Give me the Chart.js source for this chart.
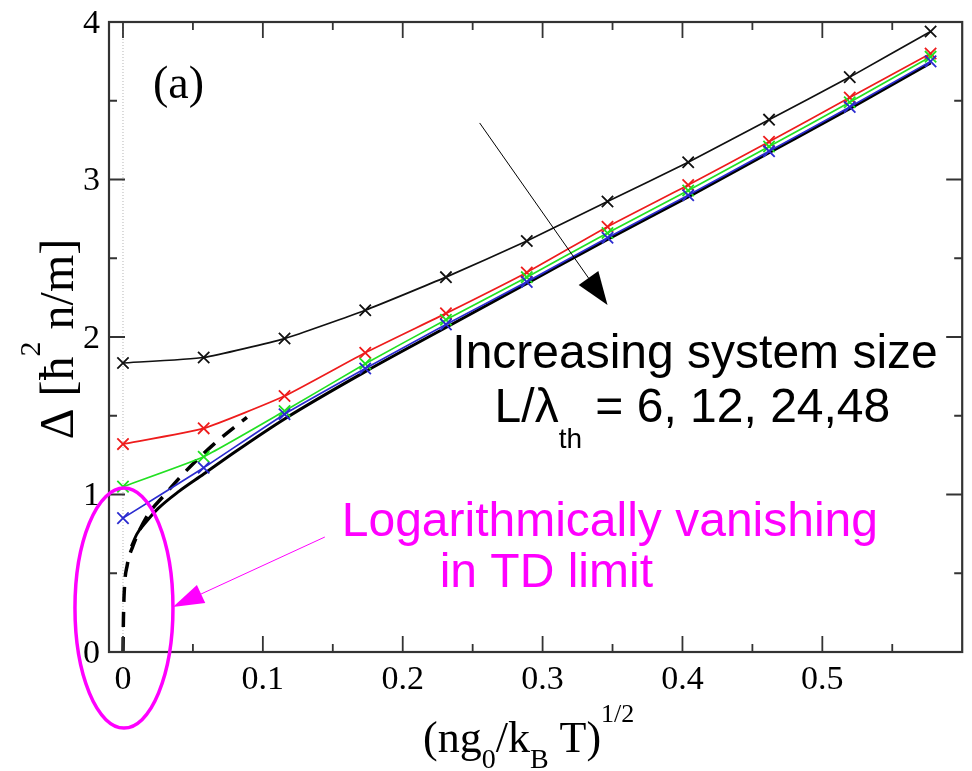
<!DOCTYPE html>
<html>
<head>
<meta charset="utf-8">
<script src="https://cdn.jsdelivr.net/npm/chart.js@4.4.0/dist/chart.umd.min.js"></script>
<style>
  html, body { margin: 0; padding: 0; background: #fff; }
  #wrap { width: 972px; height: 771px; }
</style>
</head>
<body>
<div id="wrap"><canvas id="gapChart" width="972" height="771"></canvas></div>
<script>
// x axis: (n g0 / kB T)^(1/2)
const xVals = [0, 0.0577, 0.1155, 0.1732, 0.2309, 0.2887, 0.3464, 0.4041, 0.4619, 0.5196, 0.5774];

// Delta for L/lambda_th = 6, 12, 24, 48
const deltaL6  = [1.835, 1.87, 1.99, 2.17, 2.38, 2.61, 2.86, 3.11, 3.38, 3.65, 3.94];
const deltaL12 = [1.32, 1.42, 1.625, 1.90, 2.15, 2.41, 2.70, 2.965, 3.24, 3.52, 3.80];
const deltaL24 = [1.05, 1.24, 1.53, 1.83, 2.11, 2.38, 2.66, 2.93, 3.21, 3.49, 3.78];
const deltaL48 = [0.85, 1.17, 1.51, 1.80, 2.08, 2.35, 2.63, 2.90, 3.18, 3.46, 3.75];

// thermodynamic-limit curve (solid black)
const tdX = [0.006, 0.010, 0.016, 0.025, 0.04, 0.0577, 0.08, 0.1155, 0.1732, 0.2309, 0.2887, 0.3464, 0.4041, 0.4619, 0.5196, 0.5774];
const tdY = [0.67, 0.75, 0.82, 0.91, 1.02, 1.13, 1.27, 1.48, 1.78, 2.06, 2.34, 2.62, 2.89, 3.17, 3.45, 3.74];

// logarithmic fit (dashed black)
const logX = [0, 0.0003, 0.001, 0.003, 0.007, 0.017, 0.03, 0.044, 0.065, 0.0886];
const logY = [0, 0.2, 0.4, 0.55, 0.67, 0.86, 1.0, 1.14, 1.32, 1.49];

// ticks
const xMajor = [0, 0.1, 0.2, 0.3, 0.4, 0.5];
const xMinor = [0.05, 0.15, 0.25, 0.35, 0.45, 0.55];
const yMajor = [0, 1, 2, 3, 4];
const yMinor = [0.5, 1.5, 2.5, 3.5];

const SERIF = '"Liberation Serif", "Times New Roman", serif';
const SANS = '"Liberation Sans", Arial, sans-serif';
const MAGENTA = '#ff00ff';

function pts(xs, ys) {
    return xs.map(function(x, i) { return { x: x, y: ys[i] }; });
}

function series(label, ys, color) {
    return {
        label: label,
        data: pts(xVals, ys),
        borderColor: color,
        backgroundColor: color,
        borderWidth: 1.7,
        pointStyle: 'crossRot',
        pointRadius: 8,
        pointBorderWidth: 1.8,
        pointBorderColor: color,
        tension: 0.15
    };
}

// draw a run of text pieces (normal / sub / super) from x along baseline y
function drawRuns(ctx, runs, x, y) {
    ctx.textAlign = 'left';
    ctx.textBaseline = 'alphabetic';
    runs.forEach(function(r) {
        ctx.font = r.font;
        ctx.fillText(r.t, x, y + (r.dy || 0));
        x += ctx.measureText(r.t).width;
    });
}

function runsWidth(ctx, runs) {
    let w = 0;
    runs.forEach(function(r) { ctx.font = r.font; w += ctx.measureText(r.t).width; });
    return w;
}

function drawArrow(ctx, x1, y1, x2, y2, color, lw, headLen, headHalf) {
    const dx = x2 - x1, dy = y2 - y1;
    const len = Math.hypot(dx, dy);
    const ux = dx / len, uy = dy / len;
    const bx = x2 - ux * headLen, by = y2 - uy * headLen;
    ctx.strokeStyle = color;
    ctx.lineWidth = lw;
    ctx.beginPath();
    ctx.moveTo(x1, y1);
    ctx.lineTo(bx, by);
    ctx.stroke();
    ctx.fillStyle = color;
    ctx.beginPath();
    ctx.moveTo(x2, y2);
    ctx.lineTo(bx - uy * headHalf, by + ux * headHalf);
    ctx.lineTo(bx + uy * headHalf, by - ux * headHalf);
    ctx.closePath();
    ctx.fill();
}

const framePlugin = {
    id: 'frame',
    afterDraw: function(chart) {
        const ctx = chart.ctx;
        const a = chart.chartArea;
        const xs = chart.scales.x, ys = chart.scales.y;
        const px = function(v) { return xs.getPixelForValue(v); };
        const py = function(v) { return ys.getPixelForValue(v); };

        ctx.save();
        // frame
        ctx.strokeStyle = '#333';
        ctx.lineWidth = 2.2;
        ctx.strokeRect(a.left, a.top, a.right - a.left, a.bottom - a.top);

        // inward ticks on all four sides
        ctx.lineWidth = 1.8;
        ctx.beginPath();
        xMajor.concat(xMinor).forEach(function(v) {
            const len = xMajor.indexOf(v) >= 0 ? 16 : 8;
            const x = px(v);
            ctx.moveTo(x, a.bottom); ctx.lineTo(x, a.bottom - len);
            ctx.moveTo(x, a.top); ctx.lineTo(x, a.top + len);
        });
        yMajor.concat(yMinor).forEach(function(v) {
            const len = yMajor.indexOf(v) >= 0 ? 16 : 8;
            const y = py(v);
            ctx.moveTo(a.left, y); ctx.lineTo(a.left + len, y);
            ctx.moveTo(a.right, y); ctx.lineTo(a.right - len, y);
        });
        ctx.stroke();

        // tick labels
        ctx.fillStyle = '#000';
        ctx.font = '34px ' + SERIF;
        ctx.textBaseline = 'alphabetic';
        ctx.textAlign = 'center';
        xMajor.forEach(function(v) {
            ctx.fillText(String(v), px(v), a.bottom + 37);
        });
        ctx.textAlign = 'right';
        ctx.textBaseline = 'middle';
        yMajor.forEach(function(v) {
            ctx.fillText(String(v), a.left - 9, py(v) + 2);
        });

        // x axis title
        const big = '44px ' + SERIF, small = '28px ' + SERIF;
        const xTitle = [
            { t: '(ng', font: big },
            { t: '0', font: small, dy: 16 },
            { t: '/k', font: big },
            { t: 'B', font: small, dy: 16 },
            { t: ' T)', font: big },
            { t: '1/2', font: '26px ' + SERIF, dy: -30 }
        ];
        drawRuns(ctx, xTitle, 423, 752);

        // y axis title (rotated)
        const yBig = '48px ' + SERIF;
        const yTitle = [
            { t: '\u0394 [\u0127', font: yBig },
            { t: '2', font: '30px ' + SERIF, dy: -33 },
            { t: ' n/m]', font: yBig }
        ];
        ctx.save();
        ctx.translate(73, 339);
        ctx.rotate(-Math.PI / 2);
        drawRuns(ctx, yTitle, -runsWidth(ctx, yTitle) / 2, 0);
        ctx.restore();

        // panel label
        ctx.font = '46px ' + SERIF;
        ctx.textAlign = 'left';
        ctx.textBaseline = 'alphabetic';
        ctx.fillText('(a)', px(0.0214), py(3.517));

        // system size annotation
        drawArrow(ctx, px(0.255), py(3.359), px(0.3464), py(2.203), '#000', 1, 33, 12);
        ctx.fillStyle = '#000';
        ctx.font = '48px ' + SANS;
        ctx.textAlign = 'center';
        ctx.fillText('Increasing system size', px(0.409), py(1.803));
        drawRuns(ctx, [
            { t: 'L/\u03bb', font: '48px ' + SANS },
            { t: 'th', font: '28px ' + SANS, dy: 26 },
            { t: ' = 6, 12, 24,48', font: '48px ' + SANS }
        ], px(0.2657), py(1.46));

        // TD-limit annotation
        ctx.strokeStyle = MAGENTA;
        ctx.lineWidth = 3.5;
        ctx.beginPath();
        ctx.ellipse(px(0.0007), py(0.279), 49, 120, 0, 0, Math.PI * 2);
        ctx.stroke();
        drawArrow(ctx, px(0.1443), py(0.73), px(0.0357), py(0.286), MAGENTA, 1, 31, 10);
        ctx.fillStyle = MAGENTA;
        ctx.font = '48px ' + SANS;
        ctx.textAlign = 'left';
        ctx.fillText('Logarithmically vanishing', px(0.1564), py(0.737));
        ctx.fillText('in TD limit', px(0.2264), py(0.41));

        ctx.restore();
    }
};

new Chart(document.getElementById('gapChart'), {
    type: 'scatter',
    data: {
        datasets: [
            series('L/\u03bb = 48', deltaL48, '#2b2bd0'),
            series('L/\u03bb = 24', deltaL24, '#22e022'),
            series('L/\u03bb = 12', deltaL12, '#ee1c1c'),
            series('L/\u03bb = 6', deltaL6, '#111'),
            {
                label: 'TD limit',
                data: pts(tdX, tdY),
                borderColor: '#000',
                borderWidth: 3,
                pointRadius: 0,
                cubicInterpolationMode: 'monotone'
            },
            {
                label: 'log fit',
                data: pts(logX, logY),
                borderColor: '#000',
                borderWidth: 3.5,
                borderDash: [15, 10],
                pointRadius: 0,
                cubicInterpolationMode: 'monotone'
            },
            {
                label: 'zero',
                data: [{ x: 0, y: 0 }, { x: 0, y: 4 }],
                borderColor: '#b5b5b5',
                borderWidth: 1,
                borderDash: [1, 2],
                pointRadius: 0
            }
        ]
    },
    options: {
        responsive: false,
        animation: false,
        showLine: true,
        layout: { padding: { left: 109, top: 22, right: 9, bottom: 119 } },
        plugins: {
            legend: { display: false },
            tooltip: { enabled: false }
        },
        scales: {
            x: { type: 'linear', min: -0.01, max: 0.6, display: false },
            y: { type: 'linear', min: 0, max: 4, display: false }
        }
    },
    plugins: [framePlugin]
});
</script>
</body>
</html>
